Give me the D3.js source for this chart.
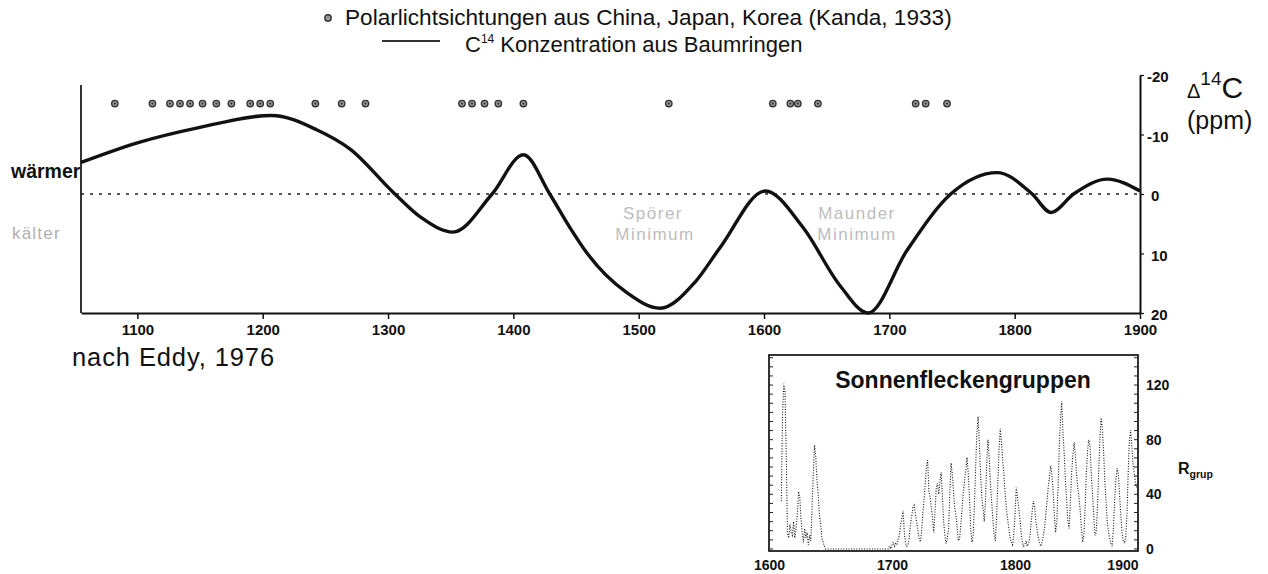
<!DOCTYPE html>
<html>
<head>
<meta charset="utf-8">
<script src="https://cdn.jsdelivr.net/npm/d3@7"></script>
<style>
  body { margin: 0; background: #fff; }
  svg { display: block; font-family: "Liberation Sans", Arial, sans-serif; }
</style>
</head>
<body>
<svg id="chart" width="1268" height="574"></svg>
<script>
// Radiocarbon anomaly (Δ14C, ppm) from tree rings, positive = less 14C
const c14Years  = [1055, 1100, 1150, 1207, 1243, 1270, 1304, 1326, 1352, 1383, 1408, 1429, 1445, 1459, 1490, 1517, 1545, 1565, 1601, 1631, 1661, 1683, 1714, 1749, 1786, 1814, 1829, 1847, 1874, 1900];
const c14Values = [-5.3, -8.6, -11.2, -13.2, -10.8, -7.5, -0.3, 3.9, 6.4, 0, -6.6, 0, 5.6, 10, 16.5, 19.2, 14.8, 9, -0.5, 5.6, 15.5, 20, 9.5, 0, -3.6, 0, 3.1, 0, -2.5, -0.5];

// Aurora sightings from China, Japan, Korea (Kanda, 1933)
const auroraYears = [1082, 1112, 1126, 1134, 1142, 1152, 1163, 1175, 1190, 1198, 1206, 1242, 1263, 1282, 1359, 1367, 1377, 1388, 1408, 1524, 1607, 1621, 1627, 1643, 1721, 1729, 1746];
const auroraLevel = -15.2;

// Axis ticks of the main panel
const yearTicks = [1100, 1200, 1300, 1400, 1500, 1600, 1700, 1800, 1900];
const c14Ticks  = [-20, -10, 0, 10, 20];

// Group sunspot number, one value per year starting in 1610
const spotStartYear = 1610;
const spotGroups = [
  35, 98, 121, 115, 70, 12, 8, 18, 12, 10,   // 1610
  20, 8, 15, 25, 42, 38, 22, 12, 5, 15,      // 1620
  8, 12, 3, 10, 6, 30, 55, 76, 68, 50,       // 1630
  40, 25, 18, 8, 5, 2, 0, 0, 0, 0,           // 1640
  0, 0, 0, 0, 0, 0, 0, 0, 0, 0,              // 1650
  0, 0, 0, 0, 0, 0, 0, 0, 0, 0,              // 1660
  0, 0, 0, 0, 0, 0, 0, 0, 0, 0,              // 1670
  0, 0, 0, 0, 0, 0, 0, 0, 0, 0,              // 1680
  0, 0, 0, 0, 0, 0, 0, 0, 2, 0,              // 1690
  3, 5, 2, 4, 3, 7, 10, 18, 22, 28,          // 1700
  12, 4, 2, 3, 8, 18, 24, 30, 32, 26,        // 1710
  20, 14, 8, 5, 12, 25, 35, 48, 60, 65,      // 1720
  42, 38, 30, 22, 12, 28, 45, 48, 40, 50,    // 1730
  56, 38, 20, 10, 4, 8, 15, 40, 63, 55,      // 1740
  42, 30, 25, 15, 6, 8, 18, 30, 42, 50,      // 1750
  58, 67, 55, 38, 15, 5, 10, 32, 60, 85,     // 1760
  97, 78, 55, 38, 30, 20, 35, 62, 80, 68,    // 1770
  48, 35, 22, 10, 6, 22, 48, 72, 88, 78,     // 1780
  65, 55, 40, 30, 22, 15, 8, 5, 3, 10,       // 1790
  25, 45, 38, 30, 22, 12, 5, 2, 3, 6,        // 1800
  2, 4, 8, 18, 28, 35, 30, 20, 14, 8,        // 1810
  4, 2, 5, 10, 15, 25, 35, 45, 52, 61,       // 1820
  55, 42, 25, 12, 20, 45, 75, 95, 108, 85,   // 1830
  70, 50, 35, 20, 15, 35, 55, 68, 78, 70,    // 1840
  55, 45, 38, 28, 15, 5, 10, 30, 55, 72,     // 1850
  80, 75, 55, 40, 25, 10, 12, 30, 55, 80,    // 1860
  96, 88, 72, 50, 35, 20, 12, 8, 4, 2,       // 1870
  15, 35, 50, 59, 55, 40, 25, 12, 6, 4,      // 1880
  8, 25, 55, 80, 87, 75, 62, 55, 48, 45,     // 1890
  45                                         // 1900
];
const insetYearTicks = [1600, 1700, 1800, 1900];
const insetValueTicks = [0, 40, 80, 120];

const svg = d3.select("#chart");
const FONT = "'Liberation Sans', Arial, sans-serif";
const NARROW = "'Liberation Sans Narrow', 'Arial Narrow', 'Liberation Sans', sans-serif";

// ---------- Main panel ----------
const x = d3.scaleLinear().domain([1055, 1900]).range([81, 1140]);
const y = d3.scaleLinear().domain([-20, 20]).range([75, 313]);

// left frame line
svg.append("line")
  .attr("x1", x(1055)).attr("x2", x(1055))
  .attr("y1", 85).attr("y2", y(20))
  .attr("stroke", "#111").attr("stroke-width", 1.7);

// bottom axis
const xAxis = svg.append("g")
  .attr("transform", `translate(0,${y(20)})`)
  .call(d3.axisBottom(x).tickValues(yearTicks).tickFormat(d3.format("d")).tickSize(6).tickSizeOuter(0).tickPadding(5));
xAxis.select(".domain").attr("stroke", "#111").attr("stroke-width", 2);
xAxis.selectAll(".tick line").attr("stroke", "#111").attr("stroke-width", 1.5);
xAxis.selectAll("text").attr("font-family", NARROW).attr("font-size", 15).attr("font-weight", "bold").attr("fill", "#111");

// right axis
const yAxis = svg.append("g")
  .attr("transform", `translate(${x(1900)},0)`)
  .call(d3.axisRight(y).tickValues(c14Ticks).tickFormat(d => d < 0 ? "-" + Math.abs(d) : String(d)).tickSize(4).tickSizeOuter(0).tickPadding(6));
yAxis.select(".domain").attr("stroke", "#111").attr("stroke-width", 2);
yAxis.selectAll(".tick line").attr("stroke", "#111").attr("stroke-width", 1.2);
yAxis.selectAll("text")
  .attr("font-family", NARROW).attr("font-size", 15).attr("font-weight", "bold").attr("fill", "#111")
  .attr("x", d => d < 0 ? 7 : 11).attr("dy", "0.45em");

// zero reference line
svg.append("line")
  .attr("x1", x(1055)).attr("x2", x(1900))
  .attr("y1", y(0)).attr("y2", y(0))
  .attr("stroke", "#222").attr("stroke-width", 1.7)
  .attr("stroke-dasharray", "3 6");

// 14C curve
const c14Data = c14Years.map((yr, i) => ({ year: yr, value: c14Values[i] }));
svg.append("path")
  .datum(c14Data)
  .attr("fill", "none")
  .attr("stroke", "#111")
  .attr("stroke-width", 3.4)
  .attr("stroke-linejoin", "round")
  .attr("d", d3.line().x(d => x(d.year)).y(d => y(d.value)).curve(d3.curveMonotoneX));

// aurora markers
const aur = svg.append("g");
aur.selectAll("circle.outer")
  .data(auroraYears)
  .join("circle")
  .attr("class", "outer")
  .attr("cx", d => x(d)).attr("cy", y(auroraLevel)).attr("r", 3.2)
  .attr("fill", "#999").attr("stroke", "#333").attr("stroke-width", 1.4);
aur.selectAll("circle.inner")
  .data(auroraYears)
  .join("circle")
  .attr("class", "inner")
  .attr("cx", d => x(d)).attr("cy", y(auroraLevel)).attr("r", 1.1)
  .attr("fill", "#333");

// side annotations
svg.append("text").attr("x", 11).attr("y", 178)
  .attr("font-family", FONT).attr("font-size", 19.5).attr("font-weight", "bold").attr("fill", "#111")
  .text("wärmer");
svg.append("text").attr("x", 12).attr("y", 239)
  .attr("font-family", FONT).attr("font-size", 17).attr("fill", "#b0b0b0")
  .attr("letter-spacing", 1.2)
  .text("kälter");

// minima labels
[["Spörer", 653, 219], ["Minimum", 655, 240], ["Maunder", 857, 219], ["Minimum", 857, 240]].forEach(([t, tx, ty]) => {
  svg.append("text").attr("x", tx).attr("y", ty)
    .attr("text-anchor", "middle")
    .attr("font-family", FONT).attr("font-size", 17).attr("fill", "#bdbdbd")
    .attr("letter-spacing", 1.5)
    .text(t);
});

// right axis title
const unit = svg.append("text").attr("x", 1187).attr("y", 98).attr("font-family", FONT).attr("fill", "#111");
unit.append("tspan").attr("font-size", 20).text("Δ");
unit.append("tspan").attr("font-size", 19).attr("dy", -13).text("14");
unit.append("tspan").attr("font-size", 30).attr("dy", 13).text("C");
svg.append("text").attr("x", 1187).attr("y", 129)
  .attr("font-family", FONT).attr("font-size", 25).attr("fill", "#111")
  .text("(ppm)");

// legend
svg.append("circle").attr("cx", 328).attr("cy", 18).attr("r", 3.2)
  .attr("fill", "#999").attr("stroke", "#333").attr("stroke-width", 1.4);
svg.append("text").attr("x", 345).attr("y", 25)
  .attr("font-family", FONT).attr("font-size", 22.6).attr("fill", "#111")
  .text("Polarlichtsichtungen aus China, Japan, Korea (Kanda, 1933)");
svg.append("line").attr("x1", 382).attr("x2", 440).attr("y1", 41).attr("y2", 41)
  .attr("stroke", "#333").attr("stroke-width", 2);
const leg2 = svg.append("text").attr("x", 465).attr("y", 52)
  .attr("font-family", FONT).attr("font-size", 22).attr("fill", "#111");
leg2.append("tspan").text("C");
leg2.append("tspan").attr("font-size", 12).attr("dy", -9).text("14");
leg2.append("tspan").attr("dy", 9).text(" Konzentration aus Baumringen");

// source
svg.append("text").attr("x", 72).attr("y", 366)
  .attr("font-family", FONT).attr("font-size", 25.5).attr("fill", "#111")
  .attr("letter-spacing", 0.9)
  .text("nach Eddy, 1976");

// ---------- Inset: sunspot groups ----------
const xi = d3.scaleLinear().domain([1600, 1900]).range([769, 1138]);
const yi = d3.scaleLinear().domain([-1.5, 142]).range([551, 355]);

const spotData = spotGroups.map((v, i) => ({ year: spotStartYear + i, value: v }));
svg.append("path")
  .datum(spotData)
  .attr("fill", "none")
  .attr("stroke", "#111")
  .attr("stroke-width", 1.1)
  .attr("stroke-dasharray", "1 1.6")
  .attr("d", d3.line().x(d => xi(d.year)).y(d => yi(d.value)));

// inset frame
svg.append("rect")
  .attr("x", xi(1600)).attr("y", yi(142))
  .attr("width", xi(1900) - xi(1600)).attr("height", yi(-1.5) - yi(142))
  .attr("fill", "none").attr("stroke", "#111").attr("stroke-width", 1.7);

// minor ticks along both inset sides
const minorTicks = d3.range(0, 141, 40 / 6);
svg.append("g").selectAll("line.l").data(minorTicks).join("line")
  .attr("x1", xi(1600)).attr("x2", xi(1600) + 4)
  .attr("y1", d => yi(d)).attr("y2", d => yi(d))
  .attr("stroke", "#222").attr("stroke-width", 1);
svg.append("g").selectAll("line.r").data(minorTicks).join("line")
  .attr("x1", xi(1900) - 4).attr("x2", xi(1900))
  .attr("y1", d => yi(d)).attr("y2", d => yi(d))
  .attr("stroke", "#222").attr("stroke-width", 1);

// inset axes labels
const xiAxis = svg.append("g")
  .attr("transform", `translate(0,${yi(-1.5)})`)
  .call(d3.axisBottom(xi).tickValues(insetYearTicks).tickFormat(d3.format("d")).tickSize(0).tickPadding(9));
xiAxis.select(".domain").remove();
xiAxis.selectAll("text").attr("font-family", FONT).attr("font-size", 14).attr("font-weight", "bold").attr("fill", "#111")
  .attr("text-anchor", d => d === 1900 ? "end" : "middle");

const yiAxis = svg.append("g")
  .attr("transform", `translate(${xi(1900)},0)`)
  .call(d3.axisRight(yi).tickValues(insetValueTicks).tickSize(0).tickPadding(8));
yiAxis.select(".domain").remove();
yiAxis.selectAll("text").attr("font-family", FONT).attr("font-size", 14).attr("font-weight", "bold").attr("fill", "#111");

svg.append("text").attr("x", 963).attr("y", 388)
  .attr("text-anchor", "middle")
  .attr("font-family", FONT).attr("font-size", 23).attr("font-weight", "bold").attr("fill", "#111")
  .text("Sonnenfleckengruppen");

const rg = svg.append("text").attr("x", 1178).attr("y", 474)
  .attr("font-family", FONT).attr("font-weight", "bold").attr("fill", "#111");
rg.append("tspan").attr("font-size", 16).text("R");
rg.append("tspan").attr("font-size", 10.5).attr("dy", 4).text("grup");
</script>
</body>
</html>
